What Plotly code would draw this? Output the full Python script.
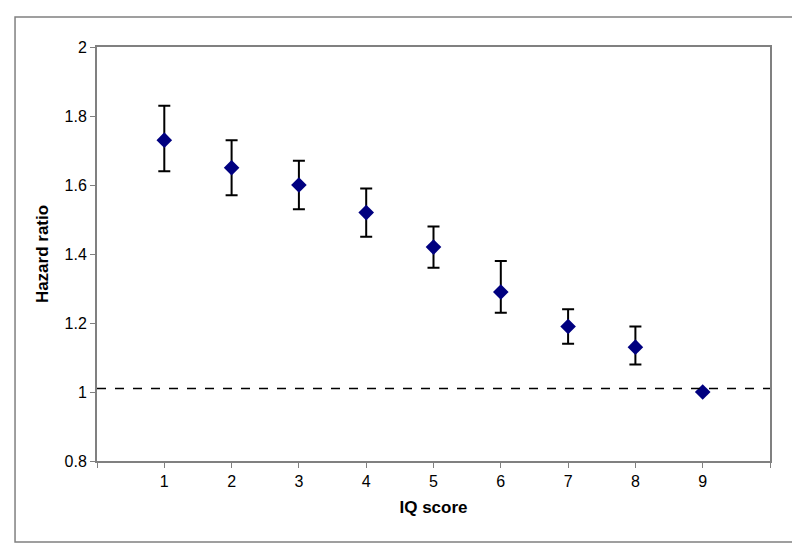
import plotly.graph_objects as go

iq_score = [1, 2, 3, 4, 5, 6, 7, 8, 9]
hazard_ratio = [1.73, 1.65, 1.60, 1.52, 1.42, 1.29, 1.19, 1.13, 1.00]
ci_upper = [1.83, 1.73, 1.67, 1.59, 1.48, 1.38, 1.24, 1.19, 1.00]
ci_lower = [1.64, 1.57, 1.53, 1.45, 1.36, 1.23, 1.14, 1.08, 1.00]
reference_line = 1.01

x_tickvals = list(range(0, 11))
x_ticktext = [""] + [str(v) for v in iq_score] + [""]
y_tickvals = [0.8, 1.0, 1.2, 1.4, 1.6, 1.8, 2.0]

err_plus = [u - h for u, h in zip(ci_upper, hazard_ratio)]
err_minus = [h - l for h, l in zip(hazard_ratio, ci_lower)]
# no bar for the reference category
vis = [v > 0 for v in err_plus]

fig = go.Figure()

fig.add_hline(y=reference_line, line_dash="dash", line_color="black", line_width=1.5)

fig.add_trace(go.Scatter(
    x=iq_score, y=hazard_ratio,
    mode="markers",
    marker=dict(symbol="diamond", size=12, color="#000080"),
    error_y=dict(type="data", symmetric=False,
                 array=[p if v else None for p, v in zip(err_plus, vis)],
                 arrayminus=[m if v else None for m, v in zip(err_minus, vis)],
                 color="black", thickness=2, width=6),
    showlegend=False,
))

tick_font = dict(family="Liberation Sans, Arial, sans-serif", size=16, color="black")
title_font = dict(family="Liberation Sans, Arial, sans-serif", size=17, color="black")

fig.update_xaxes(
    range=[0, 10], tickvals=x_tickvals, ticktext=x_ticktext,
    showgrid=False, zeroline=False, automargin=False,
    showline=True, linecolor="#808080", linewidth=2, mirror=True,
    ticks="outside", ticklen=5, tickcolor="#808080", tickfont=tick_font,
    title=dict(text="<b>IQ score</b>", font=title_font, standoff=12),
)
fig.update_yaxes(
    range=[0.8, 2.0], tickvals=y_tickvals,
    showgrid=False, zeroline=False, automargin=False,
    showline=True, linecolor="#808080", linewidth=2, mirror=True,
    ticks="outside", ticklen=5, tickcolor="#808080", tickfont=tick_font,
    title=dict(text="<b>Hazard ratio</b>", font=title_font, standoff=12),
)

# outer chart border
fig.add_shape(type="rect", xref="paper", yref="paper",
              x0=-0.1218, x1=1.0386, y0=-0.1957, y1=1.0725,
              line=dict(color="#808080", width=1.5), layer="below")

fig.update_layout(
    width=800, height=547,
    margin=dict(l=89, r=38, t=39, b=94, autoexpand=False),
    paper_bgcolor="white", plot_bgcolor="white",
    font=tick_font,
)

fig.write_html("out.html")
